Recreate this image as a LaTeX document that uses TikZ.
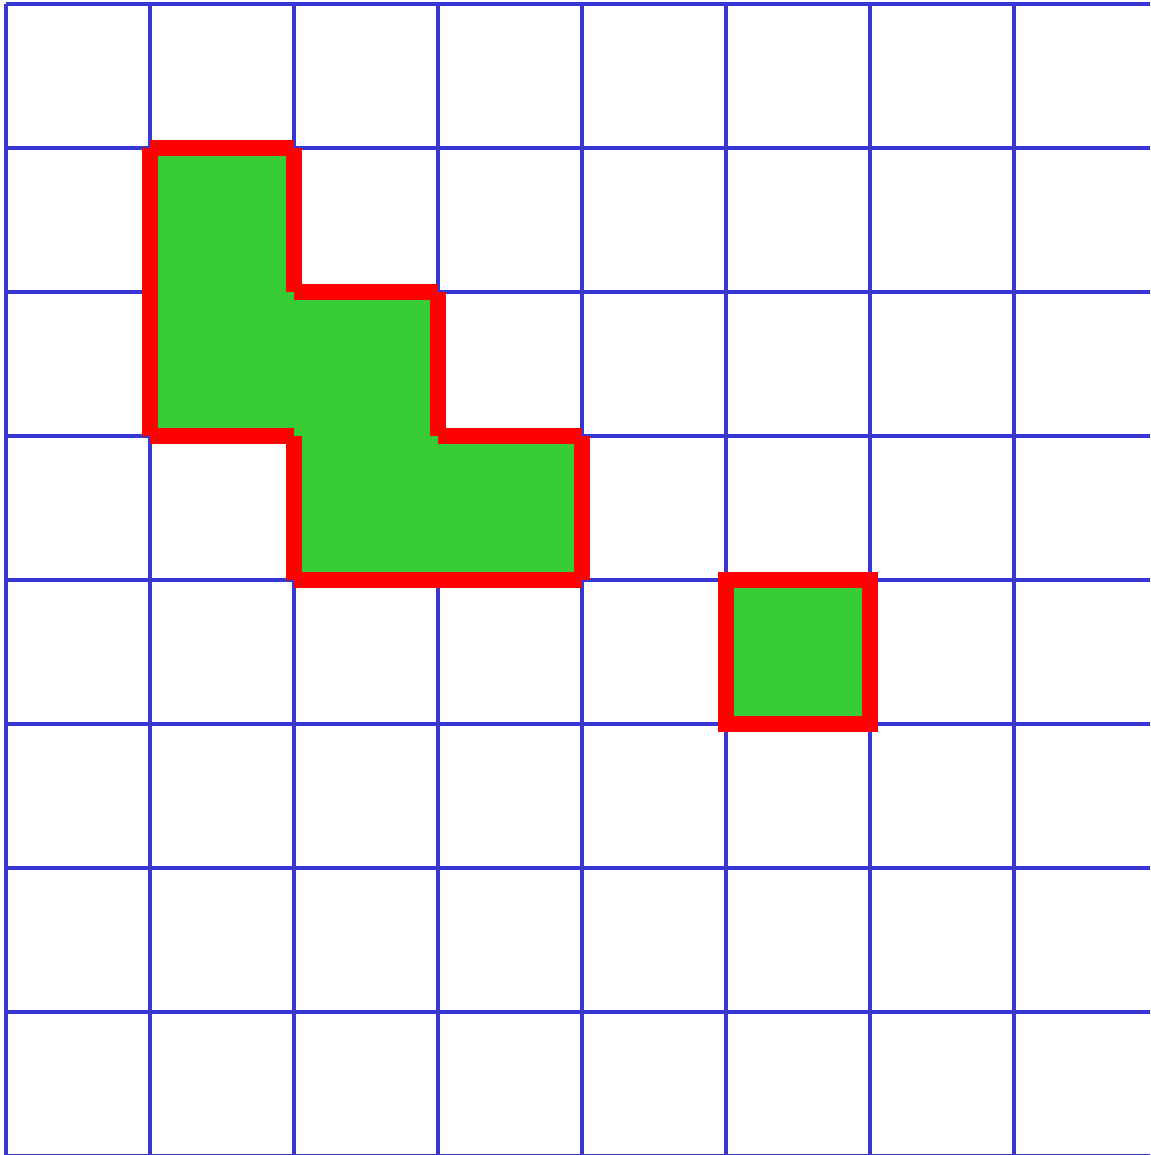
\documentclass[tikz,border=0pt]{standalone}
\definecolor{gridblue}{RGB}{55,55,212}
\definecolor{cellgreen}{RGB}{53,204,53}
\definecolor{edgered}{RGB}{255,0,0}
\begin{document}
\begin{tikzpicture}[x=1pt,y=-1pt,
  gridline/.style={draw=gridblue,line width=4.5pt},
  cellfill/.style={fill=cellgreen},
  edgeline/.style={draw=edgered,line width=16pt,line cap=butt}]
\useasboundingbox (0,0) rectangle (1150,1155);
\clip (0,0) rectangle (1150,1155);
% grid
\foreach \k in {0,...,8}{
  \draw[gridline] ({6+144*\k},4) -- ({6+144*\k},1160);
  \draw[gridline] (6,{4+144*\k}) -- (1160,{4+144*\k});
}
% green fills
\fill[cellfill] (150,148) -- (294,148) -- (294,292) -- (438,292) -- (438,436) -- (582,436) -- (582,580) -- (294,580) -- (294,436) -- (150,436) -- cycle;
\fill[cellfill] (726,580) rectangle (870,724);
% red boundary, drawn edge by edge
\foreach \a/\b/\c/\d in {150/148/294/148, 294/148/294/292, 294/292/438/292, 438/292/438/436,
  438/436/582/436, 582/436/582/580, 582/580/438/580, 438/580/294/580, 294/580/294/436,
  294/436/150/436, 150/436/150/292, 150/292/150/148}{
  \draw[edgeline] (\a,\b) -- (\c,\d);
}
\draw[draw=edgered,line width=16pt,line join=miter] (726,580) rectangle (870,724);
\end{tikzpicture}
\end{document}
